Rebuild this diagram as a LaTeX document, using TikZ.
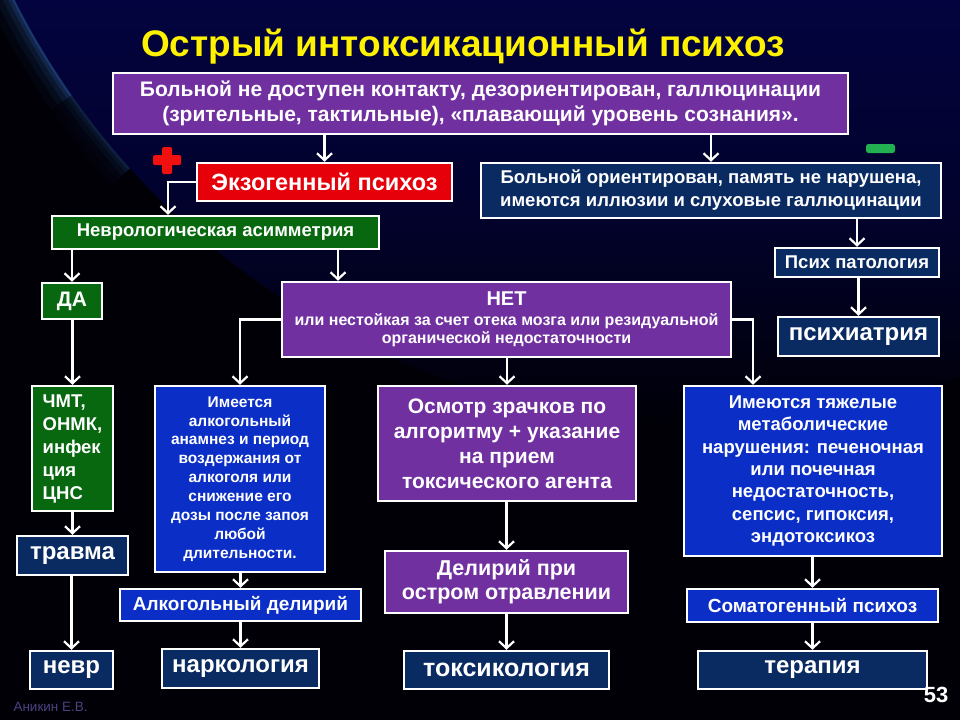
\documentclass[tikz,border=0pt]{standalone}
\usepackage{fontspec}
\setmainfont{Liberation Sans}
\usetikzlibrary{arrows.meta,calc}
\definecolor{bgnavy}{HTML}{03033F}
\definecolor{bgnavym}{HTML}{02022C}
\definecolor{bgblack}{HTML}{000006}
\definecolor{rimblue}{HTML}{2A5AA8}
\definecolor{ppurple}{HTML}{7030A0}
\definecolor{pred}{HTML}{E5000A}
\definecolor{pgreen}{HTML}{08680F}
\definecolor{pnavy}{HTML}{0A2A62}
\definecolor{pblue}{HTML}{0A2EC6}
\definecolor{ptitle}{HTML}{FFF200}
\definecolor{pplus}{HTML}{F01010}
\definecolor{pminus}{HTML}{22B050}
\definecolor{pauthor}{HTML}{4B4280}
\pgfdeclareverticalshading{bgvert}{100bp}{color(0bp)=(bgblack); color(45bp)=(bgblack); color(60bp)=(bgnavym); color(75bp)=(bgnavy); color(100bp)=(bgnavy)}
\newcommand\fs[2]{\fontsize{#1}{#2}\selectfont}
\newcommand\bx[7]{\node[box,#6,minimum width={#4-#2},minimum height={#5-#3}] (#1) at ({(#2+#4)/2},{(#3+#5)/2}) {#7};}
\tikzset{
  box/.style={draw=white, line width=2.5pt, text=white, font=\bfseries, align=center, inner sep=0pt},
  purplebox/.style={fill=ppurple},
  redbox/.style={fill=pred},
  greenbox/.style={fill=pgreen},
  navybox/.style={fill=pnavy},
  bluebox/.style={fill=pblue},
  sz/.style 2 args={font=\bfseries\fs{#1}{#2}},
  arr/.style={draw=white, line width=2.2pt, -{Straight Barb[length=7pt,width=15pt]}},
}
\begin{document}
\begin{tikzpicture}[x=1pt,y=-1pt]
\useasboundingbox (0,0) rectangle (960,720);
% background
\fill[bgblack] (0,0) rectangle (960,720);
\begin{scope}
\clip (0,0) rectangle (960,720);
\foreach \w/\o in {50/0.06,34/0.09,22/0.14,12/0.22,5/0.35}{
  \draw[rimblue, line width=\w pt, opacity=\o] (700,-345) ++(153.8:767) arc[start angle=153.8, end angle=145, radius=767];
  \draw[rimblue, line width=\w pt, opacity=\o*0.5] (700,-345) ++(145:767) arc[start angle=145, end angle=138, radius=767];
}
\clip (700,-345) circle[radius=767];
\shade[shading=bgvert] (0,0) rectangle (960,720);
\end{scope}
% title
\node[anchor=base, text=ptitle, font=\bfseries\fs{37}{40}] (title) at (463,56) {Острый интоксикационный психоз};
% plus / minus
\fill[pplus, rounded corners=1.5pt] (162,147) rectangle (172,174);
\fill[pplus, rounded corners=1.5pt] (153,155) rectangle (181,165);
\fill[pminus, rounded corners=2.5pt] (866,144) rectangle (895,153);
% boxes
\bx{top}{113}{73}{848}{134}{purplebox,sz={21}{25}}{Больной не доступен контакту, дезориентирован, галлюцинации\\(зрительные, тактильные), «плавающий уровень сознания».}
\bx{exo}{197}{163}{452}{201}{redbox,sz={23.5}{26}}{Экзогенный психоз}
\bx{orient}{481}{163}{941}{218}{navybox,sz={18.5}{23}}{Больной ориентирован, память не нарушена,\\имеются иллюзии и слуховые галлюцинации}
\bx{nevr}{52}{216}{379}{249}{greenbox,sz={18.5}{20}}{Неврологическая асимметрия}
\bx{psy}{775}{248}{939}{277}{navybox,sz={18.5}{20}}{Псих патология}
\bx{psychiatry}{778}{317}{939}{356}{navybox,sz={24}{26}}{психиатрия}
\bx{da}{42}{283}{102}{319}{greenbox,sz={21}{23}}{ДА}
\bx{net}{282}{282}{731}{357}{purplebox,sz={16}{18}}{{\fs{20}{22}НЕТ}\\[2pt]или нестойкая за счет отека мозга или резидуальной\\органической недостаточности}
\bx{chmt}{32}{386}{113}{511}{greenbox,align=left,sz={18.5}{23}}{ЧМТ,\\ОНМК,\\инфек\\ция\\ЦНС}
\bx{alc}{155}{386}{325}{572}{bluebox,sz={15.5}{18.9}}{Имеется\\алкогольный\\анамнез и период\\воздержания от\\алкоголя или\\снижение его\\дозы после запоя\\любой\\длительности.}
\bx{osm}{378}{386}{636}{501}{purplebox,sz={21}{25}}{Осмотр зрачков по\\алгоритму + указание\\на прием\\токсического агента}
\bx{metab}{684}{386}{942}{556}{bluebox,sz={18.5}{22.3}}{Имеются тяжелые\\метаболические\\нарушения: печеночная\\или почечная\\недостаточность,\\сепсис, гипоксия,\\эндотоксикоз}
\bx{travma}{17}{536}{128}{575}{navybox,sz={24}{26}}{травма}
\bx{delir}{385}{551}{628}{613}{purplebox,sz={21.5}{24}}{Делирий при\\остром отравлении}
\bx{alcdel}{120}{589}{361}{621}{bluebox,sz={19}{21}}{Алкогольный делирий}
\bx{soma}{687}{589}{938}{622}{bluebox,sz={19}{21}}{Соматогенный психоз}
\bx{nevrbox}{30}{651}{113}{689}{navybox,sz={24}{26}}{невр}
\bx{narko}{162}{649}{319}{688}{navybox,sz={24}{26}}{наркология}
\bx{toxi}{404}{651}{609}{689}{navybox,sz={25}{27}}{токсикология}
\bx{ther}{698}{651}{927}{689}{navybox,sz={24}{26}}{терапия}
% footer
\node[anchor=base west, text=pauthor, font=\fs{13.5}{15}] (author) at (10,711) {Аникин Е.В.};
\node[anchor=base, text=white, font=\bfseries\fs{22}{24}] (page) at (936,702) {53};
% helper coordinates
\coordinate (c168) at (168,0);
\coordinate (c338) at (338,0);
\coordinate (c753) at (753,0);
% connectors
\draw[arr] (top.south -| exo.north) -- (exo.north);
\draw[arr] (top.south -| orient.north) -- (orient.north);
\draw[arr] (exo.west) -| (nevr.north -| c168);
\draw[arr] (nevr.south -| da.north) -- (da.north);
\draw[arr] (nevr.south -| c338) -- (net.north -| c338);
\draw[arr] (orient.south -| psy.north) -- (psy.north);
\draw[arr] (psy.south -| psychiatry.north) -- (psychiatry.north);
\draw[arr] (da.south -| chmt.north) -- (chmt.north);
\draw[arr] (chmt.south -| travma.north) -- (travma.north);
\draw[arr] (travma.south -| nevrbox.north) -- (nevrbox.north);
\draw[arr] (net.west) -| (alc.north);
\draw[arr] (net.east) -| (metab.north -| c753);
\draw[arr] (net.south -| osm.north) -- (osm.north);
\draw[arr] (alc.south -| alcdel.north) -- (alcdel.north);
\draw[arr] (alcdel.south -| narko.north) -- (narko.north);
\draw[arr] (osm.south -| delir.north) -- (delir.north);
\draw[arr] (delir.south -| toxi.north) -- (toxi.north);
\draw[arr] (metab.south -| soma.north) -- (soma.north);
\draw[arr] (soma.south -| ther.north) -- (ther.north);
\end{tikzpicture}
\end{document}
